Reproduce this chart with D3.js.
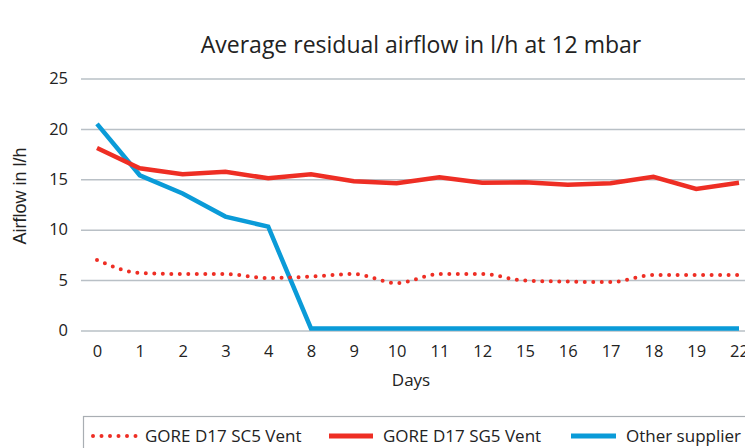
<!DOCTYPE html>
<html>
<head>
<meta charset="utf-8">
<script src="https://cdn.jsdelivr.net/npm/d3@7"></script>
<style>
  body { margin: 0; background: #fff; }
  svg { display: block; }
  text { font-family: "Open Sans", sans-serif; fill: #222; }
</style>
</head>
<body>
<script>
// categories on the x axis (days, not evenly spaced -> point scale)
const days = ["0","1","2","3","4","8","9","10","11","12","15","16","17","18","19","22"];
const sc5 = [7.0, 5.7, 5.6, 5.6, 5.2, 5.35, 5.6, 4.7, 5.6, 5.6, 4.95, 4.85, 4.8, 5.5, 5.5, 5.5];
const sg5 = [18.1, 16.1, 15.5, 15.75, 15.1, 15.5, 14.8, 14.6, 15.2, 14.65, 14.7, 14.45, 14.6, 15.25, 14.05, 14.65];
const other = [20.5, 15.4, 13.6, 11.3, 10.3, 0.2, 0.2, 0.2, 0.2, 0.2, 0.2, 0.2, 0.2, 0.2, 0.2, 0.2];
const yTicks = [0, 5, 10, 15, 20, 25];
const seriesNames = ["GORE D17 SC5 Vent", "GORE D17 SG5 Vent", "Other supplier"];

const red = "#ee2e24", blue = "#0a9bd8";
const width = 745, height = 448;

var svg = d3.select("body").append("svg")
    .attr("width", width).attr("height", height);

var x = d3.scalePoint().domain(days).range([97, 739]);
var y = d3.scaleLinear().domain([0, 25]).range([330.5, 78.5]);

//Title
svg.append("text")
    .attr("x", 421).attr("y", 53)
    .attr("text-anchor", "middle")
    .style("font-size", "23px")
    .text("Average residual airflow in l/h at 12 mbar");

//Grid lines + y labels
var yAxis = d3.axisLeft(y).tickValues(yTicks).tickSize(-680).tickPadding(13);
svg.append("g")
    .attr("transform", "translate(81,0)")
    .call(yAxis)
    .call(g => g.select(".domain").remove())
    .call(g => g.selectAll(".tick line").attr("stroke", "#b9c0c6").attr("stroke-width", 1.5))
    .call(g => g.selectAll(".tick text").style("font-size", "16.5px").style("font-family", "Open Sans, sans-serif").attr("fill", "#222"));

//x labels
var xAxis = d3.axisBottom(x).tickSize(0).tickPadding(15);
svg.append("g")
    .attr("transform", "translate(0,330)")
    .call(xAxis)
    .call(g => g.select(".domain").remove())
    .call(g => g.selectAll(".tick text").style("font-size", "16.5px").style("font-family", "Open Sans, sans-serif").attr("fill", "#222"));

//Axis labels
svg.append("text")
    .attr("x", 411).attr("y", 386)
    .attr("text-anchor", "middle")
    .style("font-size", "17px")
    .text("Days");
svg.append("text")
    .attr("transform", "translate(26,196) rotate(-90)")
    .attr("text-anchor", "middle")
    .style("font-size", "18px")
    .style("font-family", "Liberation Sans, Arial, sans-serif")
    .text("Airflow in l/h");

//Lines
var straight = d3.line().x((d, i) => x(days[i])).y(d => y(d));
var smooth = d3.line().x((d, i) => x(days[i])).y(d => y(d)).curve(d3.curveMonotoneX);

svg.append("path").datum(other)
    .attr("d", straight).attr("fill", "none")
    .attr("stroke", blue).attr("stroke-width", 4.5);
svg.append("path").datum(sg5)
    .attr("d", straight).attr("fill", "none")
    .attr("stroke", red).attr("stroke-width", 4.5);
svg.append("path").datum(sc5)
    .attr("d", smooth).attr("fill", "none")
    .attr("stroke", red).attr("stroke-width", 4)
    .attr("stroke-linecap", "round")
    .attr("stroke-dasharray", "0,8.5");

//Legend
var legend = svg.append("g");
legend.append("rect")
    .attr("x", 83.5).attr("y", 416.5)
    .attr("width", 720).attr("height", 60)
    .attr("fill", "none").attr("stroke", "#a9aeb3").attr("stroke-width", 1.2);

var items = [
  {name: seriesNames[0], x0: 93, x1: 137, color: red, dash: "0,8.5", tx: 145},
  {name: seriesNames[1], x0: 329, x1: 373, color: red, dash: null, tx: 383},
  {name: seriesNames[2], x0: 571, x1: 616, color: blue, dash: null, tx: 626}
];
items.forEach(it => {
  var l = legend.append("line")
      .attr("x1", it.x0).attr("x2", it.x1)
      .attr("y1", 436).attr("y2", 436)
      .attr("stroke", it.color);
  if (it.dash) {
    l.attr("stroke-width", 4).attr("stroke-linecap", "round").attr("stroke-dasharray", it.dash);
  } else {
    l.attr("stroke-width", 5);
  }
  legend.append("text")
      .attr("x", it.tx).attr("y", 442)
      .style("font-size", "17px")
      .text(it.name);
});
</script>
</body>
</html>
